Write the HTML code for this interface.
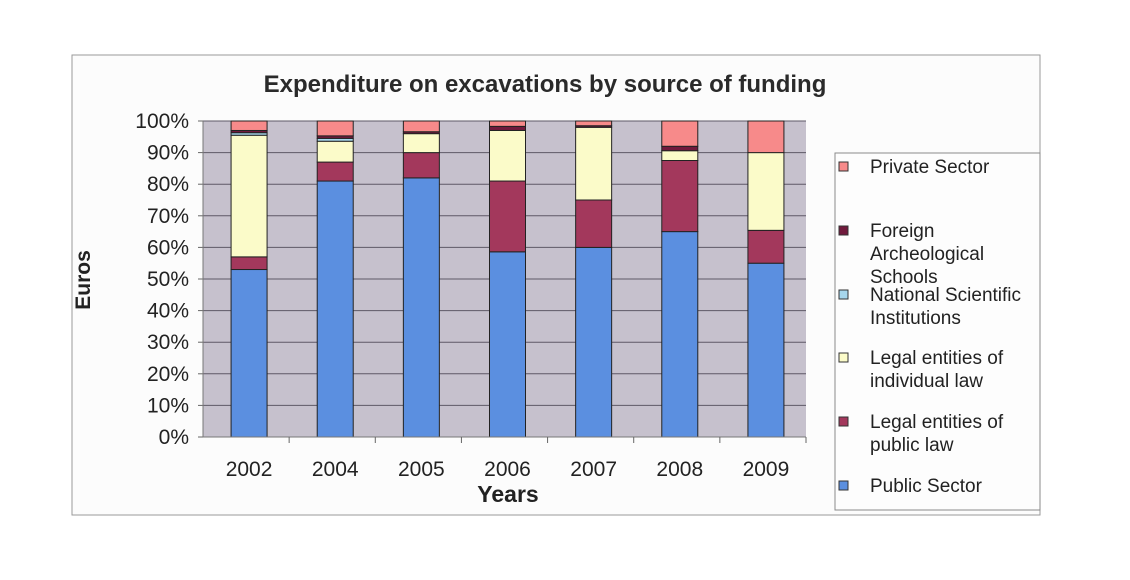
<!DOCTYPE html>
<html><head><meta charset="utf-8"><style>
body{margin:0;background:#fff;}
svg{display:block;font-family:"Liberation Sans",sans-serif;}
</style></head><body>
<svg id="chart" width="1130" height="580" viewBox="0 0 1130 580" xmlns="http://www.w3.org/2000/svg">
<rect x="0" y="0" width="1130" height="580" fill="#fff"/>
<rect x="72" y="55" width="968" height="460" fill="#fcfcfc" stroke="#9a9a9a" stroke-width="1"/>
<text x="545" y="92" text-anchor="middle" font-size="24" font-weight="bold" fill="#2a2a2a">Expenditure on excavations by source of funding</text>
<rect x="203" y="121" width="603" height="316" fill="#c6c1cd"/>
<g id="grid"></g>
<g id="bars"></g>
<g id="axes"></g>
<text transform="translate(90,280) rotate(-90)" text-anchor="middle" font-size="21" font-weight="bold" fill="#222">Euros</text>
<text x="508" y="502" text-anchor="middle" font-size="23" font-weight="bold" fill="#222">Years</text>
<rect x="835" y="153" width="205" height="357" fill="#fdfdfd" stroke="#8a8a8a"/>
<g id="legend"></g>
</svg>
<script>
const categories=["2002","2004","2005","2006","2007","2008","2009"];
const publicSector=[53,81,82,58.6,60,65,55];
const publicLaw=[4,6,8,22.4,15,22.5,10.4];
const individualLaw=[38.5,6.6,6,16,23,3.1,24.6];
const nationalSci=[0.8,0.9,0,0,0,0,0];
const foreignSchools=[0.7,0.8,0.6,1.3,0.5,1.4,0];
const privateSector=[3,4.7,3.4,1.7,1.5,8,10];
const yTicks=["0%","10%","20%","30%","40%","50%","60%","70%","80%","90%","100%"];
const NS="http://www.w3.org/2000/svg";
const L=203,R=806,T=121,B=437;
const y=v=>B-(v/100)*(B-T);
const band=(R-L)/categories.length;
const xc=i=>L+band*(i+0.5)+3;
const bw=36;
function mk(t,a,p){const e=document.createElementNS(NS,t);for(const k in a)e.setAttribute(k,a[k]);p.appendChild(e);return e;}
const grid=document.getElementById('grid'),axes=document.getElementById('axes'),bars=document.getElementById('bars'),leg=document.getElementById('legend');
yTicks.forEach((lab,i)=>{const v=i*10;
 const g=mk('line',{x1:L,x2:R,y1:y(v),y2:y(v),stroke:'#5e5966','stroke-width':1},grid);
 
 
 const tk=mk('line',{x1:L-5,x2:L,y1:y(v),y2:y(v),stroke:'#666'},axes);
 
 
 const t=mk('text',{x:L-14,y:y(v)+7,'text-anchor':'end','font-size':21,fill:'#222'},axes);
 t.textContent=lab;
 
 
});
mk('line',{x1:L,x2:L,y1:T,y2:B,stroke:'#777'},axes);
mk('line',{x1:L,x2:R,y1:B,y2:B,stroke:'#777'},axes);
const series=[
 {name:'public-sector',d:publicSector,c:'#5b8fe0',label:['Public Sector'],ly:486},
 {name:'legal-public-law',d:publicLaw,c:'#a3385c',label:['Legal entities of','public law'],ly:422},
 {name:'legal-individual-law',d:individualLaw,c:'#fbfbc9',label:['Legal entities of','individual law'],ly:358},
 {name:'national-scientific',d:nationalSci,c:'#a6d6ec',label:['National Scientific','Institutions'],ly:295},
 {name:'foreign-schools',d:foreignSchools,c:'#701a3c',label:['Foreign','Archeological','Schools'],ly:231},
 {name:'private-sector',d:privateSector,c:'#f78a8a',label:['Private Sector'],ly:167}
];
categories.forEach((cat,i)=>{
 let acc=0;
 series.forEach(s=>{const v=s.d[i];if(v<=0)return;
  const r=mk('rect',{x:xc(i)-bw/2,y:y(acc+v),width:bw,height:y(acc)-y(acc+v),fill:s.c,stroke:'#222','stroke-width':1},bars);
  
  
  acc+=v;});
 const t=mk('text',{x:xc(i),y:476,'text-anchor':'middle','font-size':21,fill:'#222'},axes);
 t.textContent=cat;
 
 
 const tk=mk('line',{x1:L+band*(i+1),x2:L+band*(i+1),y1:B,y2:B+6,stroke:'#666'},axes);
 
 
});
series.forEach(s=>{
 const g=mk('g',{},leg);
 
 
 mk('rect',{x:839,y:s.ly-5,width:9,height:9,fill:s.c,stroke:'#333'},g);
 s.label.forEach((ln,k)=>{const t=mk('text',{x:870,y:s.ly+6+k*23,'font-size':19,fill:'#222'},g);t.textContent=ln;});
});
</script>
</body></html>
